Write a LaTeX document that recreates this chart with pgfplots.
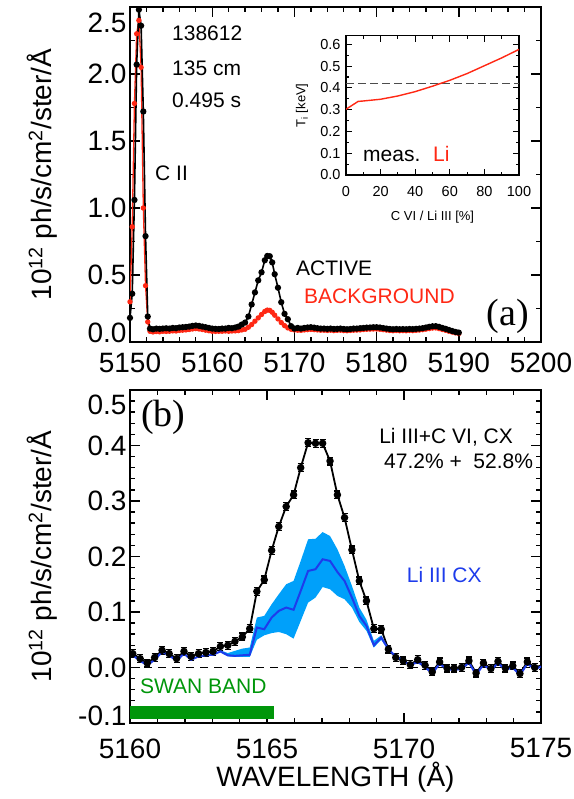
\documentclass[border=0pt]{standalone}
\usepackage{fontspec}
\setmainfont{Liberation Sans}
\newfontfamily\seriffont{Liberation Serif}
\usepackage{pgfplots}
\pgfplotsset{compat=1.18}

\definecolor{bgred}{RGB}{255,40,20}
\definecolor{cxblue}{RGB}{30,60,235}
\definecolor{bandblue}{RGB}{0,160,250}
\definecolor{swangreen}{RGB}{0,150,10}

\newcommand{\bigtxt}{\fontsize{28bp}{32bp}\selectfont}
\newcommand{\midtxt}{\fontsize{21bp}{24bp}\selectfont}

\pgfplotsset{
  idl/.style={
    scale only axis,
    axis line style={line width=1.8bp},
    tick style={line width=1.4bp, black},
    major tick length=10bp, minor tick length=5bp,
    tick align=inside,
    /pgf/number format/assume math mode=true,
    ticklabel style={font=\bigtxt},
    xticklabel style={/tikz/yshift=-7bp, /pgf/number format/fixed,
      /pgf/number format/precision=0, /pgf/number format/1000 sep={}},
    yticklabel style={/pgf/number format/fixed, /pgf/number format/fixed zerofill,
      /pgf/number format/precision=1},
    extra y tick style={major tick length=0pt},
    every axis y label/.style={at={(axis description cs:0,0.5)}, xshift=-88bp,
      rotate=90, anchor=center, font=\bigtxt},
    every axis x label/.style={at={(axis description cs:0.5,0)},
      yshift=-54bp, anchor=center, font=\bigtxt},
  },
}

\begin{document}
\begin{tikzpicture}[x=1bp,y=1bp]
\useasboundingbox (0,0) rectangle (574,799);

% ---------------- (a) active and background spectra ----------------
\begin{axis}[idl,
  at={(130bp,457bp)}, anchor=south west, width=411bp, height=335bp,
  xmin=5150, xmax=5200, ymin=0, ymax=2.5,
  xtick={5150,5160,5170,5180,5190,5200}, minor x tick num=4,
  ytick={0,0.5,1,1.5,2,2.5}, yticklabels={{},0.5,1.0,1.5,2.0,{}},
  minor y tick num=1,
  extra y ticks={0.067,2.38}, extra y tick labels={0.0,2.5},
  ylabel={10\textsuperscript{12} ph/s/cm\textsuperscript{2}/ster/Å},
]
\addplot[color=bgred, line width=1.3bp, mark=*, mark size=2bp] coordinates {
(5150.00,0.30) (5150.27,0.86) (5150.54,1.78) (5150.81,2.30) (5151.08,2.40)
(5151.35,2.05) (5151.62,1.00) (5151.89,0.42) (5152.16,0.15) (5152.43,0.08)
(5152.8,0.075) (5153.2,0.078) (5153.6,0.076) (5154.0,0.080) (5154.4,0.079)
(5154.8,0.080) (5155.2,0.083) (5155.6,0.082) (5156.0,0.086) (5156.4,0.088)
(5156.8,0.090) (5157.2,0.093) (5157.6,0.097) (5158.0,0.100) (5158.4,0.097)
(5158.8,0.093) (5159.2,0.088) (5159.6,0.084) (5160.0,0.080) (5160.4,0.079)
(5160.8,0.080) (5161.2,0.080) (5161.6,0.082) (5162.0,0.080) (5162.4,0.082)
(5162.8,0.083) (5163.2,0.085) (5163.6,0.090) (5164.0,0.095) (5164.4,0.110)
(5164.8,0.130) (5165.2,0.155) (5165.6,0.180) (5166.0,0.205) (5166.4,0.228)
(5166.7,0.238) (5167.0,0.236) (5167.3,0.222) (5167.6,0.200) (5168.0,0.172)
(5168.4,0.145) (5168.8,0.122) (5169.2,0.105) (5169.6,0.095) (5170.0,0.090)
(5170.4,0.088) (5170.8,0.087) (5171.2,0.090) (5171.6,0.092) (5172.0,0.094)
(5172.4,0.092) (5172.8,0.090) (5173.2,0.088) (5173.6,0.088) (5174.0,0.086)
(5174.4,0.088) (5174.8,0.085) (5175.2,0.087) (5175.6,0.088) (5176.0,0.085)
(5176.4,0.084) (5176.8,0.086) (5177.2,0.088) (5177.6,0.089) (5178.0,0.090)
(5178.4,0.093) (5178.8,0.095) (5179.2,0.096) (5179.6,0.097) (5180.0,0.097)
(5180.4,0.095) (5180.8,0.092) (5181.2,0.089) (5181.6,0.086) (5182.0,0.084)
(5182.4,0.086) (5182.8,0.084) (5183.2,0.085) (5183.6,0.084) (5184.0,0.086)
(5184.4,0.085) (5184.8,0.087) (5185.2,0.089) (5185.6,0.092) (5186.0,0.096)
(5186.4,0.100) (5186.8,0.104) (5187.2,0.105) (5187.6,0.100) (5188.0,0.093)
(5188.4,0.087) (5188.8,0.080) (5189.2,0.074) (5189.6,0.068) (5190.0,0.063)
};
\addplot[color=black, line width=1.6bp, mark=*, mark size=2.3bp] coordinates {
(5150.00,0.18) (5150.27,0.36) (5150.54,1.06) (5150.81,2.07) (5151.08,2.48)
(5151.35,2.36) (5151.62,1.72) (5151.89,0.79) (5152.16,0.19) (5152.43,0.10)
(5152.8,0.095) (5153.2,0.100) (5153.6,0.098) (5154.0,0.100) (5154.4,0.102)
(5154.8,0.100) (5155.2,0.105) (5155.6,0.103) (5156.0,0.108) (5156.4,0.110)
(5156.8,0.112) (5157.2,0.115) (5157.6,0.120) (5158.0,0.123) (5158.4,0.120)
(5158.8,0.115) (5159.2,0.110) (5159.6,0.105) (5160.0,0.100) (5160.4,0.098)
(5160.8,0.097) (5161.2,0.100) (5161.6,0.100) (5162.0,0.105) (5162.4,0.103)
(5162.8,0.108) (5163.2,0.115) (5163.6,0.130) (5164.0,0.145) (5164.4,0.190)
(5164.8,0.280) (5165.2,0.370) (5165.6,0.460) (5166.0,0.520) (5166.4,0.610)
(5166.7,0.642) (5167.0,0.640) (5167.3,0.594) (5167.6,0.506) (5168.0,0.405)
(5168.4,0.297) (5168.8,0.210) (5169.2,0.170) (5169.6,0.118) (5170.0,0.100)
(5170.4,0.105) (5170.8,0.100) (5171.2,0.105) (5171.6,0.108) (5172.0,0.110)
(5172.4,0.107) (5172.8,0.103) (5173.2,0.100) (5173.6,0.100) (5174.0,0.098)
(5174.4,0.100) (5174.8,0.097) (5175.2,0.098) (5175.6,0.100) (5176.0,0.097)
(5176.4,0.095) (5176.8,0.097) (5177.2,0.100) (5177.6,0.100) (5178.0,0.103)
(5178.4,0.105) (5178.8,0.107) (5179.2,0.108) (5179.6,0.110) (5180.0,0.110)
(5180.4,0.108) (5180.8,0.104) (5181.2,0.100) (5181.6,0.097) (5182.0,0.095)
(5182.4,0.097) (5182.8,0.095) (5183.2,0.096) (5183.6,0.095) (5184.0,0.097)
(5184.4,0.096) (5184.8,0.098) (5185.2,0.100) (5185.6,0.103) (5186.0,0.108)
(5186.4,0.113) (5186.8,0.117) (5187.2,0.118) (5187.6,0.113) (5188.0,0.105)
(5188.4,0.098) (5188.8,0.090) (5189.2,0.082) (5189.6,0.075) (5190.0,0.070)
};
\node[anchor=west, inner sep=0, font=\midtxt] at (axis cs:5155.11,2.306) {138612};
\node[anchor=west, inner sep=0, font=\midtxt] at (axis cs:5155.11,2.045) {135 cm};
\node[anchor=west, inner sep=0, font=\midtxt] at (axis cs:5155.11,1.806) {0.495 s};
\node[anchor=west, inner sep=0, font=\midtxt] at (axis cs:5153.04,1.261) {C II};
\node[anchor=west, inner sep=0, font=\midtxt] at (axis cs:5170.19,0.552) {ACTIVE};
\node[anchor=west, inner sep=0, font=\midtxt, text=bgred] at (axis cs:5171.17,0.343) {BACKGROUND};
\node[anchor=west, inner sep=0, font=\seriffont\fontsize{38bp}{40bp}\selectfont] at (axis cs:5193.4,0.194) {(a)};
\end{axis}

% ---------------- inset: Ti versus C VI fraction ----------------
\begin{axis}[scale only axis,
  at={(346bp,624bp)}, anchor=south west, width=173bp, height=139.3bp,
  xmin=0, xmax=100, ymin=0, ymax=0.64,
  axis background/.style={fill=white},
  axis line style={line width=1.5bp}, tick style={line width=1.1bp, black},
  major tick length=6bp, minor tick length=3bp, tick align=inside,
  xtick={0,20,40,60,80,100}, minor x tick num=1,
  ytick={0,0.1,0.2,0.3,0.4,0.5,0.6}, minor y tick num=1,
  /pgf/number format/assume math mode=true,
  ticklabel style={font=\fontsize{14.5bp}{17bp}\selectfont},
  xticklabel style={/tikz/yshift=-8bp, /pgf/number format/fixed, /pgf/number format/precision=0},
  yticklabel style={/tikz/xshift=-2bp, /pgf/number format/fixed, /pgf/number format/fixed zerofill,
    /pgf/number format/precision=1},
  xlabel={C VI / Li III [\%]}, ylabel={T\textsubscript{i} [keV]},
  every axis x label/.style={at={(axis description cs:0.5,0)},
    yshift=-42bp, anchor=center, font=\fontsize{13bp}{15bp}\selectfont},
  every axis y label/.style={at={(axis description cs:0,0.5)}, xshift=-44bp,
    rotate=90, anchor=center, font=\fontsize{13bp}{15bp}\selectfont},
]
\addplot[black!70, line width=1.5bp, dash pattern=on 8bp off 4bp] coordinates {(0,0.421) (100,0.421)};
\addplot[bgred, line width=1.4bp] coordinates {
(0,0.302) (7,0.338) (10,0.340) (20,0.348) (30,0.363) (40,0.383)
(50,0.408) (60,0.435) (70,0.466) (80,0.502) (90,0.538) (100,0.577)
};
\node[anchor=base west, inner sep=0, font=\midtxt] at (axis cs:9.8,0.061) {meas.};
\node[anchor=base west, inner sep=0, font=\midtxt, text=bgred] at (axis cs:50.3,0.061) {Li};
\end{axis}

% ---------------- (b) background-subtracted spectrum ----------------
\begin{axis}[idl,
  at={(130bp,76bp)}, anchor=south west, width=411bp, height=333bp,
  xmin=5160, xmax=5175, ymin=-0.1, ymax=0.5,
  xtick={5160,5165,5170,5175}, minor x tick num=4,
  ytick={-0.1,0,0.1,0.2,0.3,0.4,0.5}, yticklabels={{},0.0,0.1,0.2,0.3,0.4,{}},
  minor y tick num=4,
  extra y ticks={-0.087,0.474}, extra y tick labels={-0.1,0.5},
  xticklabel style={/tikz/yshift=-5bp},
  xlabel={WAVELENGTH (Å)},
  ylabel={10\textsuperscript{12} ph/s/cm\textsuperscript{2}/ster/Å},
]
\addplot[black, line width=1.8bp, dash pattern=on 8bp off 6bp] coordinates {(5160,0) (5175,0)};
\addplot[draw=none, fill=swangreen] coordinates {
(5160,-0.092) (5165.25,-0.092) (5165.25,-0.070) (5160,-0.070)
} -- cycle;
\addplot[black, line width=1.8bp, mark=*, mark size=2.8bp,
  error bars/.cd, y dir=both, y fixed=0.007,
  error bar style={line width=1.2bp},
  error mark options={rotate=90, mark size=3bp, line width=1.2bp}] coordinates {
(5160.10,0.025) (5160.37,0.016) (5160.63,0.008) (5160.90,0.018) (5161.17,0.031)
(5161.43,0.025) (5161.70,0.016) (5161.97,0.029) (5162.23,0.020) (5162.50,0.025)
(5162.77,0.027) (5163.03,0.029) (5163.30,0.038) (5163.57,0.040) (5163.83,0.047)
(5164.10,0.055) (5164.37,0.070) (5164.63,0.137) (5164.90,0.158) (5165.17,0.211)
(5165.43,0.254) (5165.70,0.290) (5165.97,0.311) (5166.23,0.360) (5166.50,0.405)
(5166.77,0.404) (5167.03,0.404) (5167.30,0.372) (5167.57,0.311) (5167.83,0.270)
(5168.10,0.212) (5168.37,0.156) (5168.63,0.120) (5168.90,0.070) (5169.17,0.069)
(5169.43,0.033) (5169.70,0.018) (5169.97,0.012) (5170.23,0.005) (5170.50,0.014)
(5170.77,0.004) (5171.03,-0.008) (5171.30,0.010) (5171.57,-0.001) (5171.83,-0.001)
(5172.10,0.000) (5172.37,0.012) (5172.63,-0.010) (5172.90,0.008) (5173.17,-0.002)
(5173.43,0.011) (5173.70,-0.001) (5173.97,0.003) (5174.23,-0.011) (5174.50,0.010)
(5174.77,0.000) (5175.03,0.004)
};
% uncertainty band of the Li III charge-exchange component
\addplot[draw=none, fill=bandblue] coordinates {
(5163.30,0.031) (5163.57,0.026) (5163.83,0.030) (5164.10,0.034) (5164.37,0.036)
(5164.63,0.090) (5164.90,0.093) (5165.17,0.114) (5165.43,0.132) (5165.70,0.150)
(5165.97,0.156) (5166.23,0.192) (5166.50,0.231) (5166.77,0.232) (5167.03,0.244)
(5167.30,0.237) (5167.57,0.213) (5167.83,0.183) (5168.10,0.147) (5168.37,0.108)
(5168.63,0.086) (5168.90,0.048) (5169.17,0.058) (5169.43,0.035)
(5169.43,0.031) (5169.17,0.050) (5168.90,0.036) (5168.63,0.066) (5168.37,0.082)
(5168.10,0.108) (5167.83,0.123) (5167.57,0.129) (5167.30,0.141) (5167.03,0.145)
(5166.77,0.126) (5166.50,0.117) (5166.23,0.084) (5165.97,0.052) (5165.70,0.060)
(5165.43,0.064) (5165.17,0.062) (5164.90,0.058) (5164.63,0.050) (5164.37,0.019)
(5164.10,0.019) (5163.83,0.019) (5163.57,0.020) (5163.30,0.027)
} -- cycle;
\addplot[cxblue, line width=2bp] coordinates {
(5160.10,0.022) (5160.37,0.012) (5160.63,0.004) (5160.90,0.014) (5161.17,0.028)
(5161.43,0.022) (5161.70,0.012) (5161.97,0.025) (5162.23,0.014) (5162.50,0.020)
(5162.77,0.022) (5163.03,0.023) (5163.30,0.029) (5163.57,0.022) (5163.83,0.021)
(5164.10,0.022) (5164.37,0.023) (5164.63,0.072) (5164.90,0.069) (5165.17,0.090)
(5165.43,0.102) (5165.70,0.108) (5165.97,0.104) (5166.23,0.138) (5166.50,0.174)
(5166.77,0.177) (5167.03,0.195) (5167.30,0.192) (5167.57,0.172) (5167.83,0.156)
(5168.10,0.126) (5168.37,0.093) (5168.63,0.075) (5168.90,0.040) (5169.17,0.054)
(5169.43,0.033) (5169.70,0.020) (5169.97,0.013) (5170.23,0.004) (5170.50,0.010)
(5170.77,0.001) (5171.03,-0.011) (5171.30,0.007) (5171.57,-0.004) (5171.83,-0.004)
(5172.10,-0.003) (5172.37,0.009) (5172.63,-0.013) (5172.90,0.005) (5173.17,-0.005)
(5173.43,0.008) (5173.70,-0.004) (5173.97,0.000) (5174.23,-0.014) (5174.50,0.007)
(5174.77,-0.003) (5175.03,0.002)
};
\node[anchor=west, inner sep=0, font=\seriffont\fontsize{38bp}{40bp}\selectfont] at (axis cs:5160.40,0.451) {(b)};
\node[anchor=west, inner sep=0, font=\midtxt] at (axis cs:5169.09,0.414) {Li III+C VI, CX};
\node[anchor=west, inner sep=0, font=\midtxt] at (axis cs:5169.27,0.372) {47.2\% + \ 52.8\%};
\node[anchor=west, inner sep=0, font=\midtxt, text=cxblue] at (axis cs:5170.10,0.166) {Li III CX};
\node[anchor=west, inner sep=0, font=\midtxt, text=swangreen] at (axis cs:5160.36,-0.033) {SWAN BAND};
\end{axis}
\end{tikzpicture}
\end{document}
